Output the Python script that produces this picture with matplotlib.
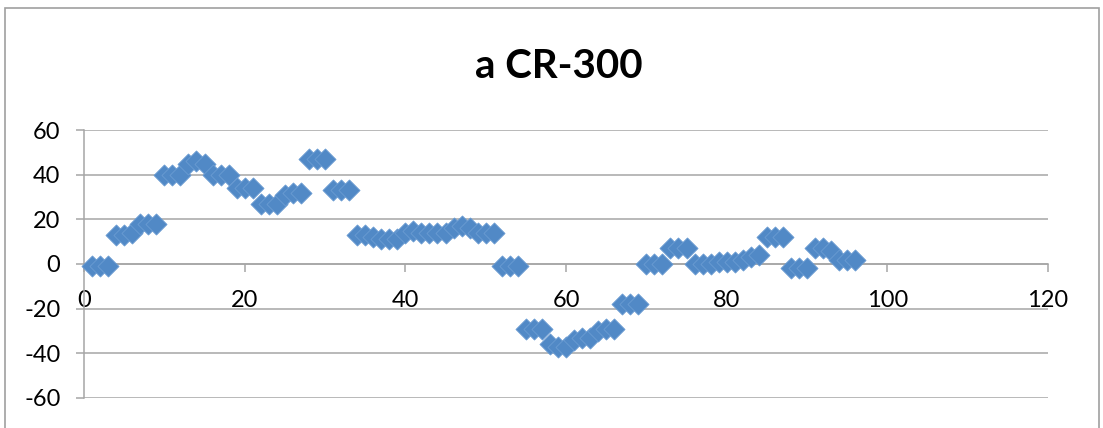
import matplotlib
matplotlib.use("Agg")
import matplotlib.pyplot as plt
from matplotlib.patches import Rectangle

plt.rcParams['font.family'] = ['Lato', 'DejaVu Sans']
plt.rcParams['axes.unicode_minus'] = False

x_vals = list(range(1, 97))
y_vals = [
    -1, -1, -1,
    13, 13, 14,
    18, 18, 18,
    40, 40, 40,
    45, 46, 45,
    40, 40, 40,
    34, 34, 34,
    27, 27, 27,
    31, 32, 32,
    47, 47, 47,
    33, 33, 33,
    13, 13, 12,
    11, 11, 11,
    14, 15, 14,
    14, 14, 14,
    16, 17, 16,
    14, 14, 14,
    -1, -1, -1,
    -29, -29, -29,
    -36, -37, -37,
    -34, -33, -33,
    -30, -29, -29,
    -18, -18, -18,
    0, 0, 0,
    7, 7, 7,
    0, 0, 0,
    1, 1, 1,
    2, 3, 4,
    12, 12, 12,
    -2, -2, -2,
    7, 7, 6,
    2, 2, 2,
]

title = "a CR-300"
x_ticks = [0, 20, 40, 60, 80, 100, 120]
y_ticks = [-60, -40, -20, 0, 20, 40, 60]

grid_col = '#A6A6A6'

fig = plt.figure(figsize=(11.03, 4.28), dpi=100)
ax = fig.add_axes([84 / 1103, 30 / 428, (1048 - 84) / 1103, (398 - 130) / 428])

# outer chart border
fig.patches.append(Rectangle((5 / 1103, -0.01), 1094 / 1103, 1 - 8 / 428 + 0.01,
                             transform=fig.transFigure, fill=False,
                             edgecolor='#A0A0A0', linewidth=1.2))

ax.scatter(x_vals, y_vals, marker='D', s=115, color='#5189C6',
           edgecolors='#6A9BD2', linewidths=0.6, zorder=3, clip_on=False)

ax.set_xlim(0, 120)
ax.set_ylim(-60, 60)
ax.set_xticks(x_ticks)
ax.set_yticks(y_ticks)

ax.grid(axis='y', color=grid_col, linewidth=1.1)
ax.set_axisbelow(True)

for s in ['top', 'right']:
    ax.spines[s].set_visible(False)
ax.spines['bottom'].set_position(('data', 0))
ax.spines['bottom'].set_color(grid_col)
ax.spines['bottom'].set_linewidth(1.1)
ax.spines['left'].set_color(grid_col)
ax.spines['left'].set_linewidth(1.1)

ax.tick_params(axis='x', direction='out', length=6, width=1.1, color=grid_col,
               labelsize=17, pad=13)
ax.tick_params(axis='y', direction='out', length=6, width=1.1, color=grid_col,
               labelsize=17, pad=11)

fig.text(559 / 1103, 1 - 67 / 428, title, ha='center', va='center',
         fontsize=29, fontweight='bold')

fig.savefig('out.png', dpi=100)
